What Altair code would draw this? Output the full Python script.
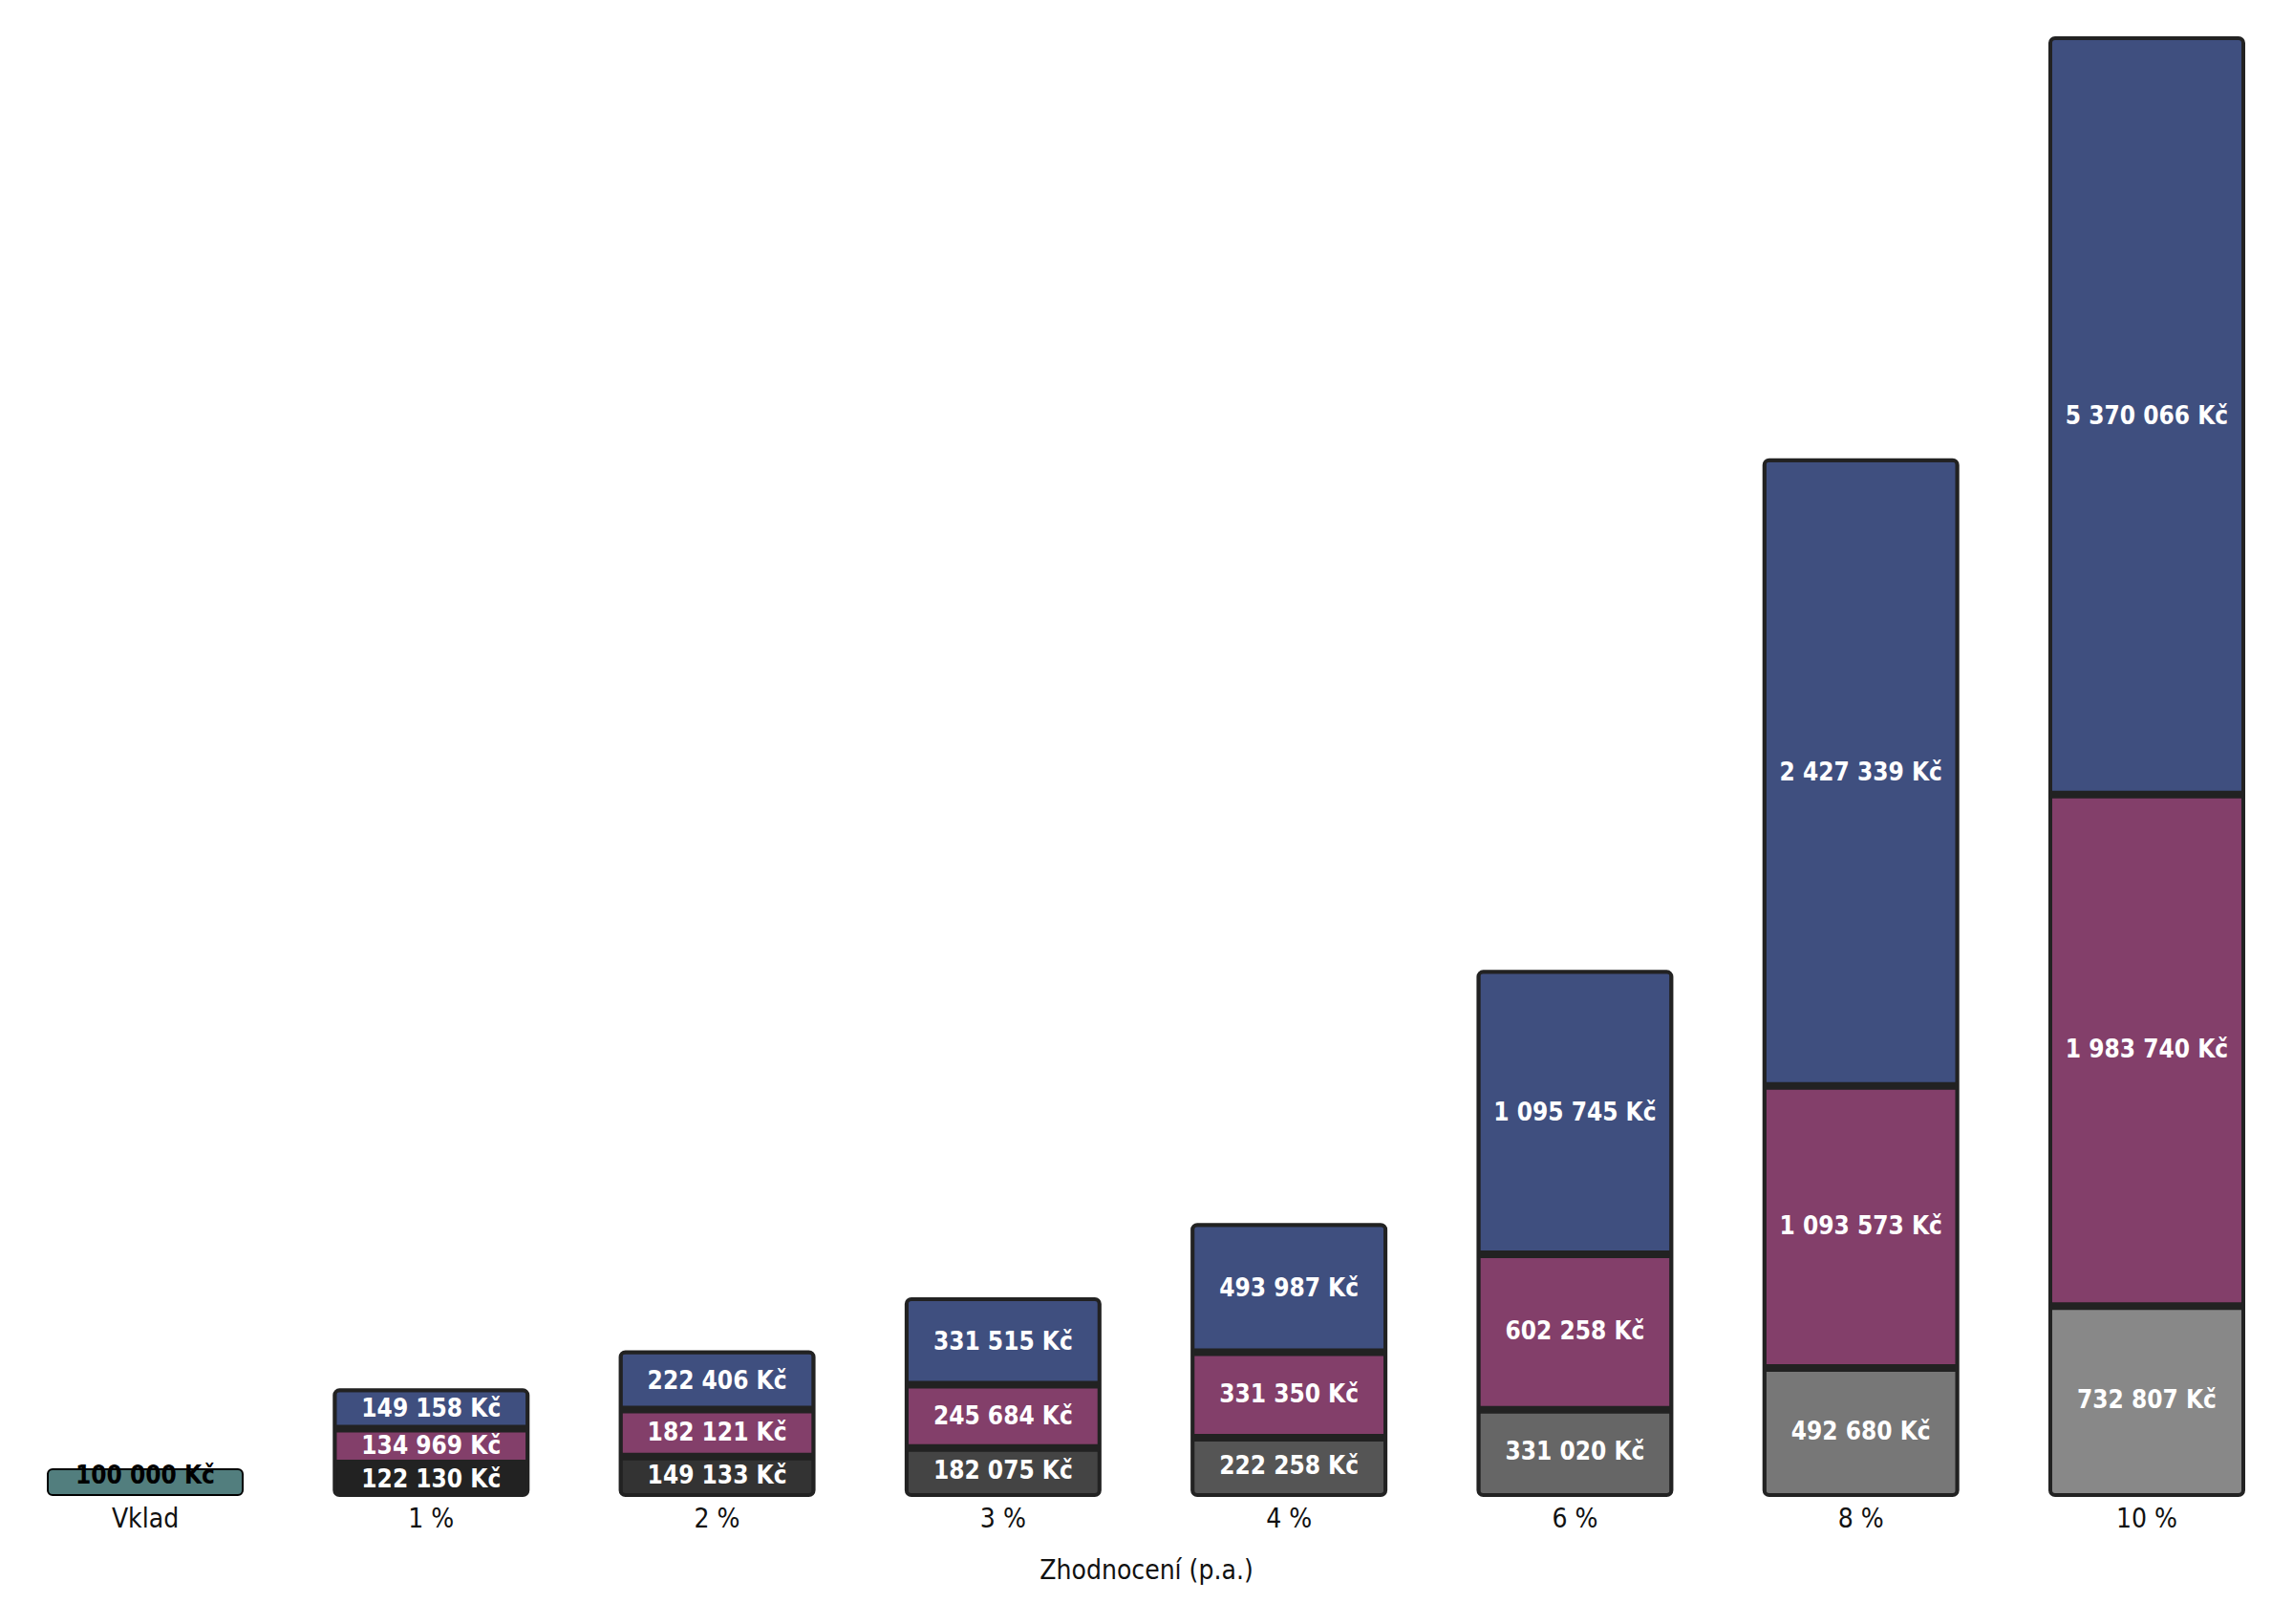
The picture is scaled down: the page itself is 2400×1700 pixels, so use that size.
import altair as alt
import pandas as pd

# values (Kč)
categories = ["Vklad", "1 %", "2 %", "3 %", "4 %", "6 %", "8 %", "10 %"]
rates = ["1 %", "2 %", "3 %", "4 %", "6 %", "8 %", "10 %"]
deposit = 100000
bottom_vals = [122130, 149133, 182075, 222258, 331020, 492680, 732807]
middle_vals = [134969, 182121, 245684, 331350, 602258, 1093573, 1983740]
top_vals = [149158, 222406, 331515, 493987, 1095745, 2427339, 5370066]

bottom_colors = ["#222222", "#333333", "#444444", "#555555", "#666666", "#777777", "#888888"]
middle_color = "#833f6a"
top_color = "#3f4f7f"
deposit_color = "#527e7e"
edge = "#222222"

YMAX = 5650000
FONT = "Liberation Sans Narrow, DejaVu Sans Condensed, Roboto Condensed, sans-serif"


def kc(v):
    return f"{v:,}".replace(",", " ") + " Kč"


rows = []
for i, cat in enumerate(rates):
    for seg, val, col in [(0, bottom_vals[i], bottom_colors[i]),
                          (1, middle_vals[i], middle_color),
                          (2, top_vals[i], top_color)]:
        rows.append({"cat": cat, "seg": seg, "value": val, "fill": col, "label": kc(val)})
df = pd.DataFrame(rows)
df_dep = pd.DataFrame([{"cat": "Vklad", "value": deposit, "label": kc(deposit)}])

x = alt.X(
    "cat:N",
    sort=categories,
    scale=alt.Scale(domain=categories, paddingInner=0.3117, paddingOuter=0.137),
    axis=alt.Axis(
        title="Zhodnocení (p.a.)",
        ticks=False,
        domain=False,
        grid=False,
        labelAngle=0,
        labelFont=FONT,
        labelFontSize=28,
        labelFontWeight=300,
        labelColor="#111111",
        labelPadding=11,
        titleFont=FONT,
        titleFontSize=28,
        titleFontWeight=300,
        titleColor="#111111",
        titlePadding=26,
    ),
)
yscale = alt.Scale(domain=[0, YMAX], clamp=True, nice=False, zero=True)

stacked = alt.Chart(df).transform_stack(
    stack="value", groupby=["cat"], as_=["v0", "v1"], sort=[alt.SortField("seg")]
)

segments = alt.Chart(df).mark_bar(
    width=202, stroke=edge, strokeWidth=4, cornerRadius=5
).encode(
    x=x,
    y=alt.Y("value:Q", stack="zero", scale=yscale, axis=None),
    color=alt.Color("fill:N", scale=None),
    order=alt.Order("seg:Q"),
)

# thick dark dividers between the stacked parts
dividers = stacked.transform_filter("datum.seg < 2").mark_tick(
    size=204, thickness=8, color=edge, opacity=1
).encode(
    x=x,
    y=alt.Y("v1:Q", scale=yscale, axis=None),
)

labels = stacked.transform_calculate(
    mid=f"(datum.v0 + min(datum.v1, {YMAX})) / 2"
).mark_text(
    font=FONT, fontSize=26, fontWeight="bold", color="white", baseline="middle"
).encode(
    x=x,
    y=alt.Y("mid:Q", scale=yscale, axis=None),
    text="label:N",
)

dep_bar = alt.Chart(df_dep).mark_bar(
    color=deposit_color, stroke="black", strokeWidth=2, cornerRadius=5, width=204
).encode(
    x=x,
    y=alt.Y("value:Q", scale=yscale, axis=None),
)

dep_label = alt.Chart(df_dep).transform_calculate(
    mid="datum.value / 2"
).mark_text(
    font=FONT, fontSize=26, fontWeight="bold", color="black", baseline="middle", dy=-7
).encode(
    x=x,
    y=alt.Y("mid:Q", scale=yscale, axis=None),
    text="label:N",
)

chart = alt.layer(segments, dividers, labels, dep_bar, dep_label).properties(
    width=2383,
    height=1525,
    padding={"left": 0, "right": 0, "top": 30, "bottom": 5},
    background="white",
).configure_view(stroke=None)

chart.save("out.html", embed_options={"renderer": "svg", "actions": False})
